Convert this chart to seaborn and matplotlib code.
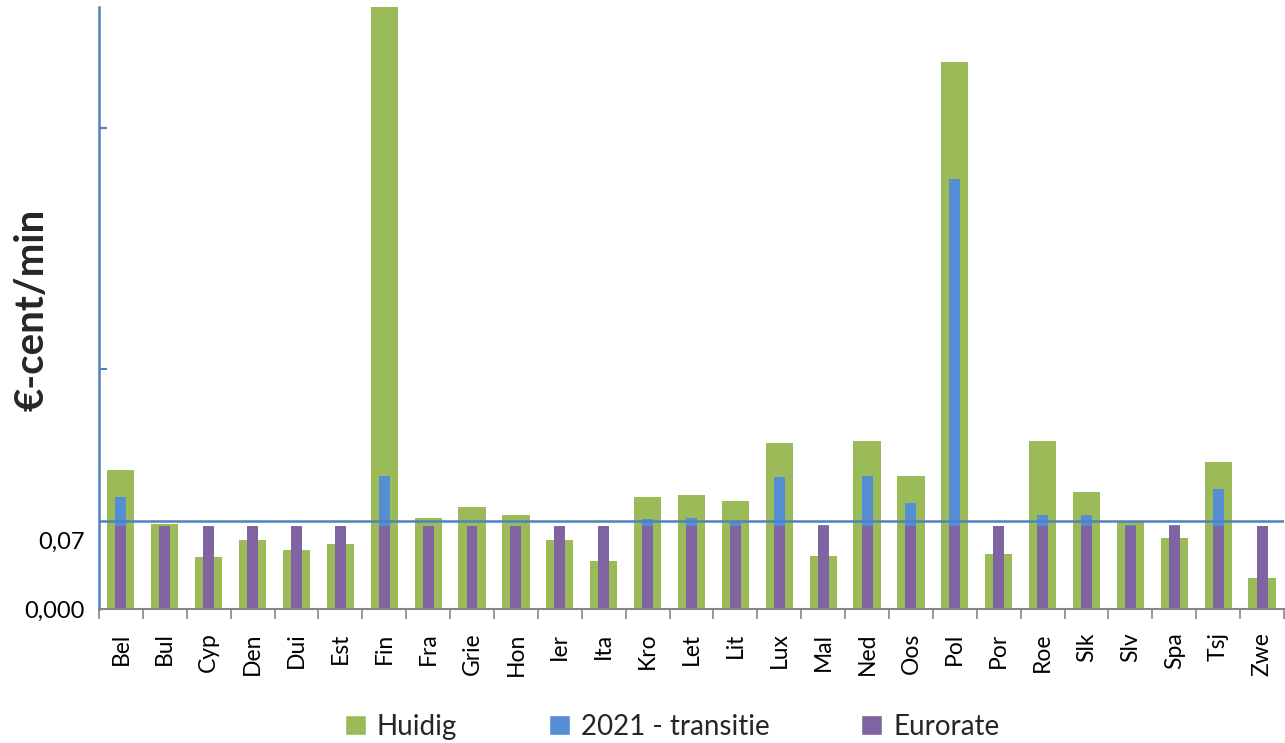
import matplotlib
matplotlib.use("Agg")
import matplotlib.pyplot as plt
import seaborn as sns
import pandas as pd
from matplotlib.patches import Patch

categories = ["Bel", "Bul", "Cyp", "Den", "Dui", "Est", "Fin", "Fra", "Grie", "Hon",
              "Ier", "Ita", "Kro", "Let", "Lit", "Lux", "Mal", "Ned", "Oos", "Pol",
              "Por", "Roe", "Slk", "Slv", "Spa", "Tsj", "Zwe"]
huidig = [0.116, 0.071, 0.043, 0.057, 0.049, 0.054, 0.520, 0.076, 0.085, 0.078,
          0.057, 0.040, 0.093, 0.095, 0.090, 0.138, 0.044, 0.140, 0.111, 0.455,
          0.046, 0.140, 0.097, 0.072, 0.059, 0.122, 0.026]
transitie = [0.093, 0.069, 0.069, 0.069, 0.069, 0.069, 0.111, 0.069, 0.069, 0.069,
             0.069, 0.069, 0.075, 0.076, 0.072, 0.110, 0.070, 0.111, 0.088, 0.358,
             0.069, 0.078, 0.078, 0.070, 0.070, 0.100, 0.069]
eurorate = [0.069] * 27
ref_line = 0.0733
ytick_vals = [0.0, 0.0575, 0.2, 0.4]
ytick_labels = ["0,000", "0,07", "", ""]

GREEN = "#9BBB59"
BLUE = "#558ED5"
PURPLE = "#8064A2"
AXBLUE = "#4F81BD"

sns.set_theme(style="white")
plt.rcParams["font.family"] = ["Lato", "DejaVu Sans"]

fig = plt.figure(figsize=(12.85, 7.43), dpi=100)
ax = fig.add_axes([0.077, 0.1804, 0.9222, 0.8102])

df = pd.DataFrame({"cat": categories, "huidig": huidig,
                   "transitie": transitie, "eurorate": eurorate})
sns.barplot(data=df, x="cat", y="huidig", color=GREEN, width=0.62,
            saturation=1, linewidth=0, ax=ax)
sns.barplot(data=df, x="cat", y="transitie", color=BLUE, width=0.25,
            saturation=1, linewidth=0, ax=ax)
sns.barplot(data=df, x="cat", y="eurorate", color=PURPLE, width=0.25,
            saturation=1, linewidth=0, ax=ax)

ax.axhline(ref_line, color=AXBLUE, lw=1.8, zorder=5)

ax.set_xlim(-0.5, len(categories) - 0.5)
ax.set_ylim(0, 0.501)
ax.set_xlabel("")
ax.set_ylabel("")

ax.set_xticks(range(len(categories)))
ax.set_xticklabels(categories, rotation=90, fontsize=16.5, color="#000000")
ax.tick_params(axis="x", which="major", length=0, pad=17)
ax.set_xticks([i - 0.5 for i in range(len(categories) + 1)], minor=True)
ax.tick_params(axis="x", which="minor", length=7, width=1.2, color="#868686",
               direction="out", bottom=True)

ax.set_yticks(ytick_vals)
ax.set_yticklabels(ytick_labels, fontsize=17, color="#000000")
ax.tick_params(axis="y", which="major", length=6, width=1.5, color=AXBLUE,
               direction="in", left=True, pad=10)
yt = ax.yaxis.get_major_ticks()
yt[1].tick1line.set_visible(False)
yt[0].tick1line.set_visible(False)

for s in ["top", "right"]:
    ax.spines[s].set_visible(False)
ax.spines["left"].set_color(AXBLUE)
ax.spines["left"].set_linewidth(1.8)
ax.spines["bottom"].set_color("#868686")
ax.spines["bottom"].set_linewidth(1.5)

fig.text(0.025, 0.583, "€-cent/min", rotation=90, fontsize=29,
         fontweight="bold", ha="center", va="center")

handles = [Patch(facecolor=GREEN, label="Huidig"),
           Patch(facecolor=BLUE, label="2021 - transitie"),
           Patch(facecolor=PURPLE, label="Eurorate")]
fig.legend(handles=handles, loc="center", bbox_to_anchor=(0.523, 0.022),
           ncol=3, frameon=False, fontsize=20, handlelength=0.75,
           handleheight=0.75, handletextpad=0.4, columnspacing=3.3)

fig.savefig("out.png", dpi=100)
